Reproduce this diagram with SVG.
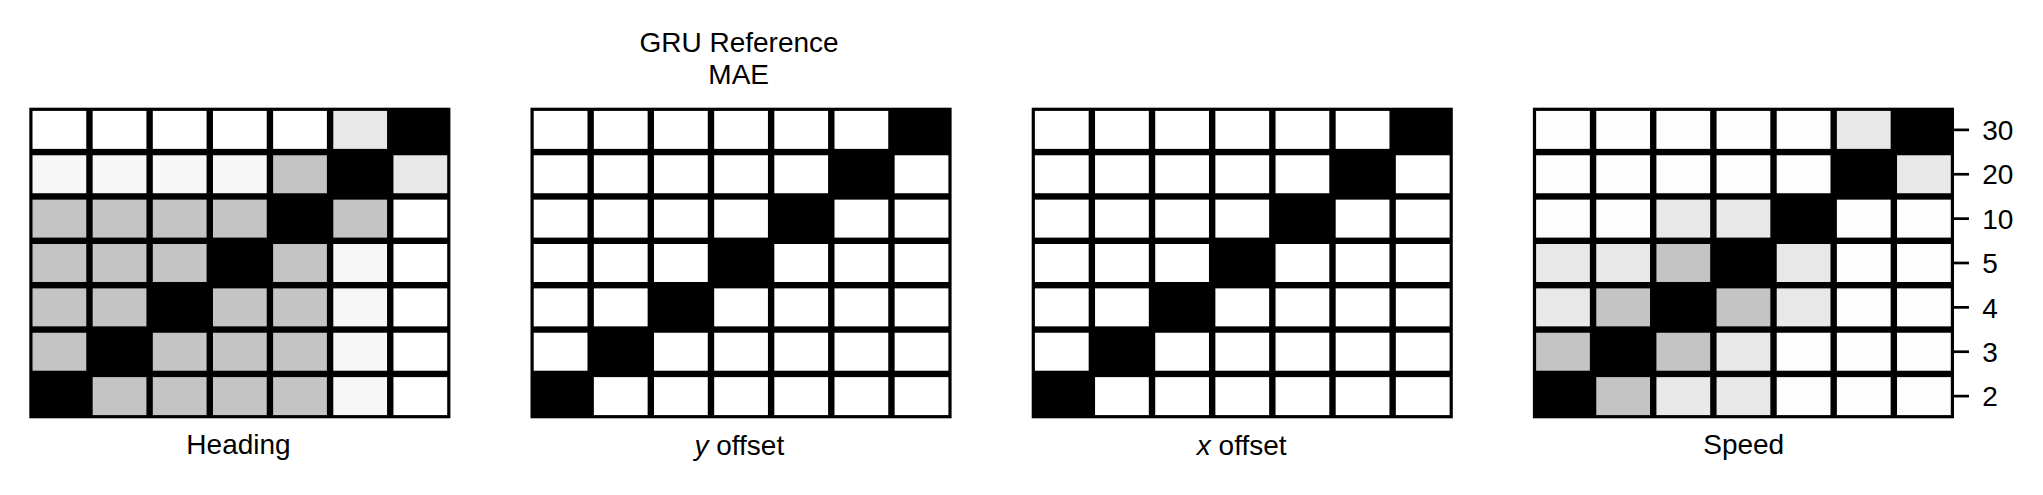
<svg xmlns="http://www.w3.org/2000/svg" xmlns:xlink="http://www.w3.org/1999/xlink" width="2043" height="495" viewBox="0 0 2043 495">
<style>
text{font-family:"Liberation Sans",Arial,sans-serif;font-size:28px;fill:#000}
.mid{text-anchor:middle}
.frame{fill:#000}
.W{fill:#ffffff}
.V{fill:#fdfdfd}
.F{fill:#f7f7f7}
.L{fill:#e8e8e8}
.G{fill:#c4c4c4}
.B{fill:#000000}
.tick{stroke:#000;stroke-width:2.7}
</style>
<defs>
<g id="diag-grid">
<rect x="0" y="0" width="421.1" height="310.6" class="frame"/>
<rect class="W" x="3.2" y="3.2" width="53.76" height="37.97"/><rect class="W" x="63.36" y="3.2" width="53.76" height="37.97"/><rect class="W" x="123.51" y="3.2" width="53.76" height="37.97"/><rect class="W" x="183.67" y="3.2" width="53.76" height="37.97"/><rect class="W" x="243.83" y="3.2" width="53.76" height="37.97"/><rect class="W" x="303.99" y="3.2" width="53.76" height="37.97"/><rect class="B" x="364.14" y="3.2" width="53.76" height="37.97"/>
<rect class="W" x="3.2" y="47.57" width="53.76" height="37.97"/><rect class="W" x="63.36" y="47.57" width="53.76" height="37.97"/><rect class="W" x="123.51" y="47.57" width="53.76" height="37.97"/><rect class="W" x="183.67" y="47.57" width="53.76" height="37.97"/><rect class="W" x="243.83" y="47.57" width="53.76" height="37.97"/><rect class="B" x="303.99" y="47.57" width="53.76" height="37.97"/><rect class="W" x="364.14" y="47.57" width="53.76" height="37.97"/>
<rect class="W" x="3.2" y="91.94" width="53.76" height="37.97"/><rect class="W" x="63.36" y="91.94" width="53.76" height="37.97"/><rect class="W" x="123.51" y="91.94" width="53.76" height="37.97"/><rect class="W" x="183.67" y="91.94" width="53.76" height="37.97"/><rect class="B" x="243.83" y="91.94" width="53.76" height="37.97"/><rect class="W" x="303.99" y="91.94" width="53.76" height="37.97"/><rect class="W" x="364.14" y="91.94" width="53.76" height="37.97"/>
<rect class="W" x="3.2" y="136.31" width="53.76" height="37.97"/><rect class="W" x="63.36" y="136.31" width="53.76" height="37.97"/><rect class="W" x="123.51" y="136.31" width="53.76" height="37.97"/><rect class="B" x="183.67" y="136.31" width="53.76" height="37.97"/><rect class="W" x="243.83" y="136.31" width="53.76" height="37.97"/><rect class="W" x="303.99" y="136.31" width="53.76" height="37.97"/><rect class="W" x="364.14" y="136.31" width="53.76" height="37.97"/>
<rect class="W" x="3.2" y="180.68" width="53.76" height="37.97"/><rect class="W" x="63.36" y="180.68" width="53.76" height="37.97"/><rect class="B" x="123.51" y="180.68" width="53.76" height="37.97"/><rect class="W" x="183.67" y="180.68" width="53.76" height="37.97"/><rect class="W" x="243.83" y="180.68" width="53.76" height="37.97"/><rect class="W" x="303.99" y="180.68" width="53.76" height="37.97"/><rect class="W" x="364.14" y="180.68" width="53.76" height="37.97"/>
<rect class="W" x="3.2" y="225.05" width="53.76" height="37.97"/><rect class="B" x="63.36" y="225.05" width="53.76" height="37.97"/><rect class="W" x="123.51" y="225.05" width="53.76" height="37.97"/><rect class="W" x="183.67" y="225.05" width="53.76" height="37.97"/><rect class="W" x="243.83" y="225.05" width="53.76" height="37.97"/><rect class="W" x="303.99" y="225.05" width="53.76" height="37.97"/><rect class="W" x="364.14" y="225.05" width="53.76" height="37.97"/>
<rect class="B" x="3.2" y="269.42" width="53.76" height="37.97"/><rect class="W" x="63.36" y="269.42" width="53.76" height="37.97"/><rect class="W" x="123.51" y="269.42" width="53.76" height="37.97"/><rect class="W" x="183.67" y="269.42" width="53.76" height="37.97"/><rect class="W" x="243.83" y="269.42" width="53.76" height="37.97"/><rect class="W" x="303.99" y="269.42" width="53.76" height="37.97"/><rect class="W" x="364.14" y="269.42" width="53.76" height="37.97"/>
</g>
</defs>
<rect x="0" y="0" width="2043" height="495" fill="#ffffff"/>

<g id="panel-heading">
<g transform="translate(29.3,107.7)">
<rect x="0" y="0" width="421.1" height="310.6" class="frame"/>
<rect class="W" x="3.2" y="3.2" width="53.76" height="37.97"/><rect class="W" x="63.36" y="3.2" width="53.76" height="37.97"/><rect class="W" x="123.51" y="3.2" width="53.76" height="37.97"/><rect class="W" x="183.67" y="3.2" width="53.76" height="37.97"/><rect class="W" x="243.83" y="3.2" width="53.76" height="37.97"/><rect class="L" x="303.99" y="3.2" width="53.76" height="37.97"/><rect class="B" x="364.14" y="3.2" width="53.76" height="37.97"/>
<rect class="F" x="3.2" y="47.57" width="53.76" height="37.97"/><rect class="F" x="63.36" y="47.57" width="53.76" height="37.97"/><rect class="F" x="123.51" y="47.57" width="53.76" height="37.97"/><rect class="F" x="183.67" y="47.57" width="53.76" height="37.97"/><rect class="G" x="243.83" y="47.57" width="53.76" height="37.97"/><rect class="B" x="303.99" y="47.57" width="53.76" height="37.97"/><rect class="L" x="364.14" y="47.57" width="53.76" height="37.97"/>
<rect class="G" x="3.2" y="91.94" width="53.76" height="37.97"/><rect class="G" x="63.36" y="91.94" width="53.76" height="37.97"/><rect class="G" x="123.51" y="91.94" width="53.76" height="37.97"/><rect class="G" x="183.67" y="91.94" width="53.76" height="37.97"/><rect class="B" x="243.83" y="91.94" width="53.76" height="37.97"/><rect class="G" x="303.99" y="91.94" width="53.76" height="37.97"/><rect class="W" x="364.14" y="91.94" width="53.76" height="37.97"/>
<rect class="G" x="3.2" y="136.31" width="53.76" height="37.97"/><rect class="G" x="63.36" y="136.31" width="53.76" height="37.97"/><rect class="G" x="123.51" y="136.31" width="53.76" height="37.97"/><rect class="B" x="183.67" y="136.31" width="53.76" height="37.97"/><rect class="G" x="243.83" y="136.31" width="53.76" height="37.97"/><rect class="F" x="303.99" y="136.31" width="53.76" height="37.97"/><rect class="W" x="364.14" y="136.31" width="53.76" height="37.97"/>
<rect class="G" x="3.2" y="180.68" width="53.76" height="37.97"/><rect class="G" x="63.36" y="180.68" width="53.76" height="37.97"/><rect class="B" x="123.51" y="180.68" width="53.76" height="37.97"/><rect class="G" x="183.67" y="180.68" width="53.76" height="37.97"/><rect class="G" x="243.83" y="180.68" width="53.76" height="37.97"/><rect class="F" x="303.99" y="180.68" width="53.76" height="37.97"/><rect class="W" x="364.14" y="180.68" width="53.76" height="37.97"/>
<rect class="G" x="3.2" y="225.05" width="53.76" height="37.97"/><rect class="B" x="63.36" y="225.05" width="53.76" height="37.97"/><rect class="G" x="123.51" y="225.05" width="53.76" height="37.97"/><rect class="G" x="183.67" y="225.05" width="53.76" height="37.97"/><rect class="G" x="243.83" y="225.05" width="53.76" height="37.97"/><rect class="F" x="303.99" y="225.05" width="53.76" height="37.97"/><rect class="W" x="364.14" y="225.05" width="53.76" height="37.97"/>
<rect class="B" x="3.2" y="269.42" width="53.76" height="37.97"/><rect class="G" x="63.36" y="269.42" width="53.76" height="37.97"/><rect class="G" x="123.51" y="269.42" width="53.76" height="37.97"/><rect class="G" x="183.67" y="269.42" width="53.76" height="37.97"/><rect class="G" x="243.83" y="269.42" width="53.76" height="37.97"/><rect class="F" x="303.99" y="269.42" width="53.76" height="37.97"/><rect class="W" x="364.14" y="269.42" width="53.76" height="37.97"/>
</g>
<text class="mid" x="238.5" y="453.5">Heading</text>
</g>

<g id="panel-y-offset">
<text class="mid" x="739" y="52.3">GRU Reference</text>
<text class="mid" x="738.7" y="84">MAE</text>
<use xlink:href="#diag-grid" href="#diag-grid" transform="translate(530.5,107.7)"/>
<text class="mid" x="739.3" y="455"><tspan font-style="italic">y</tspan> offset</text>
</g>

<g id="panel-x-offset">
<use xlink:href="#diag-grid" href="#diag-grid" transform="translate(1031.7,107.7)"/>
<text class="mid" x="1241.7" y="454.5"><tspan font-style="italic">x</tspan> offset</text>
</g>

<g id="panel-speed">
<g transform="translate(1532.9,107.7)">
<rect x="0" y="0" width="421.1" height="310.6" class="frame"/>
<rect class="V" x="3.2" y="3.2" width="53.76" height="37.97"/><rect class="V" x="63.36" y="3.2" width="53.76" height="37.97"/><rect class="V" x="123.51" y="3.2" width="53.76" height="37.97"/><rect class="V" x="183.67" y="3.2" width="53.76" height="37.97"/><rect class="V" x="243.83" y="3.2" width="53.76" height="37.97"/><rect class="L" x="303.99" y="3.2" width="53.76" height="37.97"/><rect class="B" x="364.14" y="3.2" width="53.76" height="37.97"/>
<rect class="V" x="3.2" y="47.57" width="53.76" height="37.97"/><rect class="V" x="63.36" y="47.57" width="53.76" height="37.97"/><rect class="V" x="123.51" y="47.57" width="53.76" height="37.97"/><rect class="V" x="183.67" y="47.57" width="53.76" height="37.97"/><rect class="V" x="243.83" y="47.57" width="53.76" height="37.97"/><rect class="B" x="303.99" y="47.57" width="53.76" height="37.97"/><rect class="L" x="364.14" y="47.57" width="53.76" height="37.97"/>
<rect class="V" x="3.2" y="91.94" width="53.76" height="37.97"/><rect class="V" x="63.36" y="91.94" width="53.76" height="37.97"/><rect class="L" x="123.51" y="91.94" width="53.76" height="37.97"/><rect class="L" x="183.67" y="91.94" width="53.76" height="37.97"/><rect class="B" x="243.83" y="91.94" width="53.76" height="37.97"/><rect class="V" x="303.99" y="91.94" width="53.76" height="37.97"/><rect class="V" x="364.14" y="91.94" width="53.76" height="37.97"/>
<rect class="L" x="3.2" y="136.31" width="53.76" height="37.97"/><rect class="L" x="63.36" y="136.31" width="53.76" height="37.97"/><rect class="G" x="123.51" y="136.31" width="53.76" height="37.97"/><rect class="B" x="183.67" y="136.31" width="53.76" height="37.97"/><rect class="L" x="243.83" y="136.31" width="53.76" height="37.97"/><rect class="V" x="303.99" y="136.31" width="53.76" height="37.97"/><rect class="V" x="364.14" y="136.31" width="53.76" height="37.97"/>
<rect class="L" x="3.2" y="180.68" width="53.76" height="37.97"/><rect class="G" x="63.36" y="180.68" width="53.76" height="37.97"/><rect class="B" x="123.51" y="180.68" width="53.76" height="37.97"/><rect class="G" x="183.67" y="180.68" width="53.76" height="37.97"/><rect class="L" x="243.83" y="180.68" width="53.76" height="37.97"/><rect class="V" x="303.99" y="180.68" width="53.76" height="37.97"/><rect class="V" x="364.14" y="180.68" width="53.76" height="37.97"/>
<rect class="G" x="3.2" y="225.05" width="53.76" height="37.97"/><rect class="B" x="63.36" y="225.05" width="53.76" height="37.97"/><rect class="G" x="123.51" y="225.05" width="53.76" height="37.97"/><rect class="L" x="183.67" y="225.05" width="53.76" height="37.97"/><rect class="V" x="243.83" y="225.05" width="53.76" height="37.97"/><rect class="V" x="303.99" y="225.05" width="53.76" height="37.97"/><rect class="V" x="364.14" y="225.05" width="53.76" height="37.97"/>
<rect class="B" x="3.2" y="269.42" width="53.76" height="37.97"/><rect class="G" x="63.36" y="269.42" width="53.76" height="37.97"/><rect class="L" x="123.51" y="269.42" width="53.76" height="37.97"/><rect class="L" x="183.67" y="269.42" width="53.76" height="37.97"/><rect class="V" x="243.83" y="269.42" width="53.76" height="37.97"/><rect class="V" x="303.99" y="269.42" width="53.76" height="37.97"/><rect class="V" x="364.14" y="269.42" width="53.76" height="37.97"/>
<line class="tick" x1="421.1" y1="22.19" x2="436.1" y2="22.19"/>
<line class="tick" x1="421.1" y1="66.56" x2="436.1" y2="66.56"/>
<line class="tick" x1="421.1" y1="110.93" x2="436.1" y2="110.93"/>
<line class="tick" x1="421.1" y1="155.3" x2="436.1" y2="155.3"/>
<line class="tick" x1="421.1" y1="199.67" x2="436.1" y2="199.67"/>
<line class="tick" x1="421.1" y1="244.04" x2="436.1" y2="244.04"/>
<line class="tick" x1="421.1" y1="288.41" x2="436.1" y2="288.41"/>
<text x="449.3" y="32.4">30</text>
<text x="449.3" y="76.8">20</text>
<text x="449.3" y="121.1">10</text>
<text x="449.3" y="165.5">5</text>
<text x="449.3" y="209.9">4</text>
<text x="449.3" y="254.2">3</text>
<text x="449.3" y="298.6">2</text>
</g>
<text class="mid" x="1743.7" y="453.5">Speed</text>
</g>

<g id="connectors"/>
</svg>
